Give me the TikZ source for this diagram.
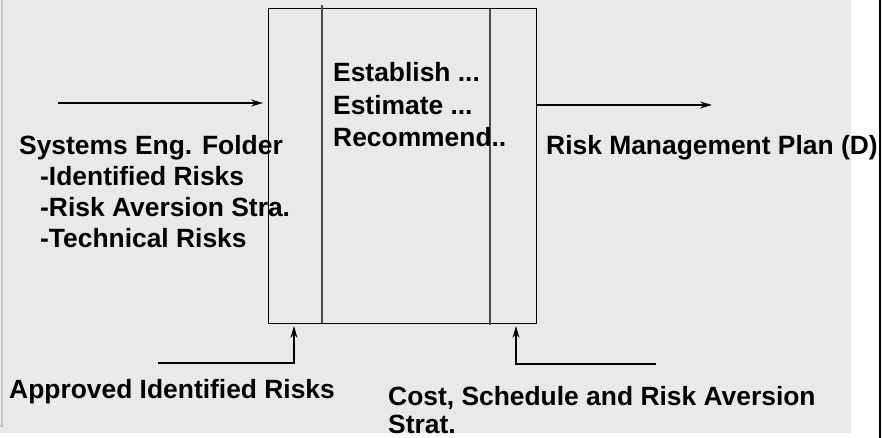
\documentclass[tikz,border=0pt]{standalone}
\usepackage{fontspec}
\setmainfont{Liberation Sans}
\usetikzlibrary{arrows.meta}
\definecolor{panelgray}{RGB}{233,233,233}
\definecolor{edgegray}{RGB}{196,196,196}
\definecolor{divgray}{RGB}{76,76,76}
\tikzset{
  lbl/.style={inner sep=0pt, anchor=base west, text=black,
    font=\fontsize{26.4bp}{31bp}\selectfont\bfseries},
  flow/.style={line width=1.3bp, -{Stealth[length=12bp,width=7bp,inset=4bp]}},
  divider/.style={line width=1.5bp, draw=divgray},
  procbox/.style={draw=black, line width=1.3bp, inner sep=0pt,
    minimum width=268bp, minimum height=315bp, anchor=north west}
}
\begin{document}
\begin{tikzpicture}[x=1bp,y=-1bp]
  \useasboundingbox (0,0) rectangle (882,438);
  % panel and frame lines
  \fill[panelgray] (0,0) rectangle (851,433);
  \draw[edgegray, line width=2bp] (2,0) -- (2,426) -- (0,426);
  \draw[black, line width=2bp] (880,0) -- (880,438);

  % process box with its two inner dividers
  \node[procbox] (proc) at (268,8) {};
  \draw[divider] (322,5) -- (322,323);
  \draw[divider] (490,9) -- (490,325);

  % labels (stacked lines share the baseline of their first line)
  \node[lbl] (folder) at (19,155) {\vtop{\hbox{Systems Eng. Folder}
    \hbox{\hspace*{21bp}-Identified Risks}
    \hbox{\hspace*{21bp}-Risk Aversion Stra.}
    \hbox{\hspace*{21bp}-Technical Risks}}};
  \node[lbl, font=\fontsize{26.4bp}{32.5bp}\selectfont\bfseries] (acts) at (333,82)
    {\vtop{\hbox{Establish ...}\hbox{Estimate ...}\hbox{Recommend..}}};
  \node[lbl] (plan) at (546,155) {Risk Management Plan (D)};
  \node[lbl] (approved) at (9,398) {Approved Identified Risks};
  \node[lbl, font=\fontsize{26.4bp}{28bp}\selectfont\bfseries] (cost) at (388,405)
    {\vtop{\hbox{Cost, Schedule and Risk Aversion}\hbox{Strat.}}};

  % input and output
  \coordinate (inStart) at (58,103);
  \coordinate (outEnd) at (712,105);
  \draw[flow, shorten >=5bp] (inStart) -- (proc.west |- inStart);
  \draw[flow] (proc.east |- outEnd) -- (outEnd);

  % controls entering from below
  \coordinate (ctlA) at (158,363);
  \coordinate (ctlAin) at (294,326);
  \coordinate (ctlB) at (656,364);
  \coordinate (ctlBin) at (516,326);
  \draw[flow] (ctlA) -| (ctlAin);
  \draw[flow] (ctlB) -| (ctlBin);
\end{tikzpicture}
\end{document}
